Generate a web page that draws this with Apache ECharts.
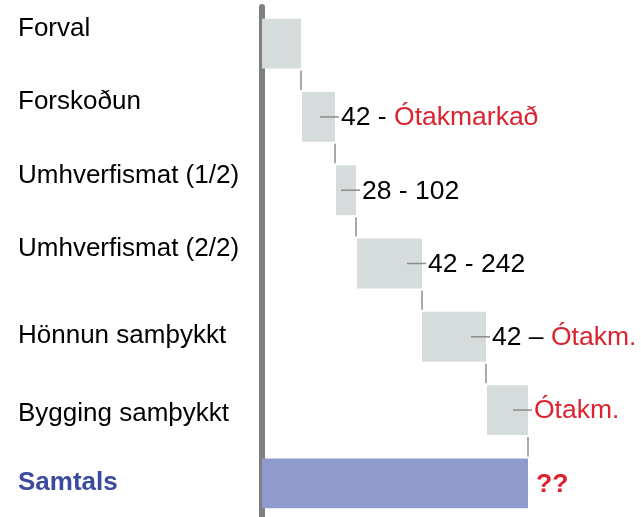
<!DOCTYPE html>
<html>
<head>
<meta charset="utf-8">
<script src="https://cdn.jsdelivr.net/npm/echarts@6/dist/echarts.min.js"></script>
<style>
html,body{margin:0;padding:0;background:#fff;}
#c{width:641px;height:517px;}
</style>
</head>
<body>
<div id="c"></div>
<script>
// ---- data ----
const categories = ['Forval', 'Forskoðun', 'Umhverfismat (1/2)', 'Umhverfismat (2/2)', 'Hönnun samþykkt', 'Bygging samþykkt', 'Samtals'];
const startVals = [0, 40, 74, 95, 160, 225, 0];
const endVals   = [39, 73, 94, 160, 224, 266, 266];
const labelBlack = ['', '42 - ', '28 - 102', '42 - 242', '42 – ', '', ''];
const labelRed   = ['', 'Ótakmarkað', '', '', 'Ótakm.', 'Ótakm.', '??'];

// ---- style ----
const FONT = '"Liberation Sans", Arial, sans-serif';
const GRAY_BAR = '#d6dcdb';
const BLUE_BAR = '#8f9bcd';
const RED = '#dc2330';
const LINE = '#8c8c8c';
const labelShift = [-15, -15, -14, -15, -1, 4, -1];

const chart = echarts.init(document.getElementById('c'), null, {renderer: 'canvas'});

function richKey(i) { return 'k' + i; }
const axisRich = {};
categories.forEach((c, i) => {
  const s = labelShift[i];
  const last = i === categories.length - 1;
  axisRich[richKey(i)] = {
    fontSize: 26, fontFamily: FONT,
    color: last ? '#3b4a9c' : '#000',
    fontWeight: last ? 'bold' : 'normal',
    padding: s < 0 ? [0, 0, -2 * s, 0] : [2 * s, 0, 0, 0]
  };
});

function renderItem(params, api) {
  const i = api.value(0);
  const s = api.value(1), e = api.value(2);
  const p0 = api.coord([s, i]);
  const p1 = api.coord([e, i]);
  const h = api.size([0, 1])[1] * 0.68;
  const last = i === categories.length - 1;
  const children = [{
    type: 'rect',
    shape: {x: p0[0], y: p0[1] - h / 2, width: p1[0] - p0[0], height: h},
    style: {fill: last ? BLUE_BAR : GRAY_BAR}
  }];
  if (!last) {
    const q = api.coord([e, i + 1]);
    children.push({
      type: 'line',
      shape: {x1: p1[0], y1: p0[1] + h / 2 + 2, x2: p1[0], y2: q[1] - h / 2 - 2},
      style: {stroke: LINE, lineWidth: 1.5}
    });
  }
  const b = labelBlack[i], r = labelRed[i];
  if (b || r) {
    if (!last) {
      children.push({
        type: 'line',
        shape: {x1: p1[0] - 15, y1: p0[1], x2: p1[0] + 4, y2: p0[1]},
        style: {stroke: LINE, lineWidth: 1.5}
      });
    }
    let txt = '';
    if (b) txt += '{b|' + b + '}';
    if (r) txt += '{r|' + r + '}';
    children.push({
      type: 'text',
      x: p1[0] + (last ? 8 : 6),
      y: p0[1] + 1,
      style: {
        text: txt,
        verticalAlign: 'middle',
        align: 'left',
        rich: {
          b: {fill: '#000', fontSize: 26.5, fontFamily: FONT},
          r: {fill: RED, fontSize: 26.5, fontFamily: FONT, fontWeight: last ? 'bold' : 'normal'}
        }
      }
    });
  }
  return {type: 'group', children};
}

chart.setOption({
  animation: false,
  backgroundColor: '#fff',
  grid: {left: 262, top: 7, width: 379, height: 513, outerBoundsMode: 'none', containLabel: false},
  xAxis: {type: 'value', min: 0, max: 379, show: false},
  yAxis: {
    type: 'category',
    inverse: true,
    data: categories,
    offset: 3,
    axisLine: {show: true, lineStyle: {color: '#808080', width: 6}},
    axisTick: {show: false},
    splitLine: {show: false},
    axisLabel: {
      align: 'left',
      margin: 241,
      formatter: (v, idx) => '{' + richKey(idx) + '|' + v + '}',
      rich: axisRich
    }
  },
  series: [{
    type: 'custom',
    renderItem: renderItem,
    encode: {x: [1, 2], y: 0},
    data: categories.map((c, i) => [i, startVals[i], endVals[i]])
  }]
});
</script>
</body>
</html>
